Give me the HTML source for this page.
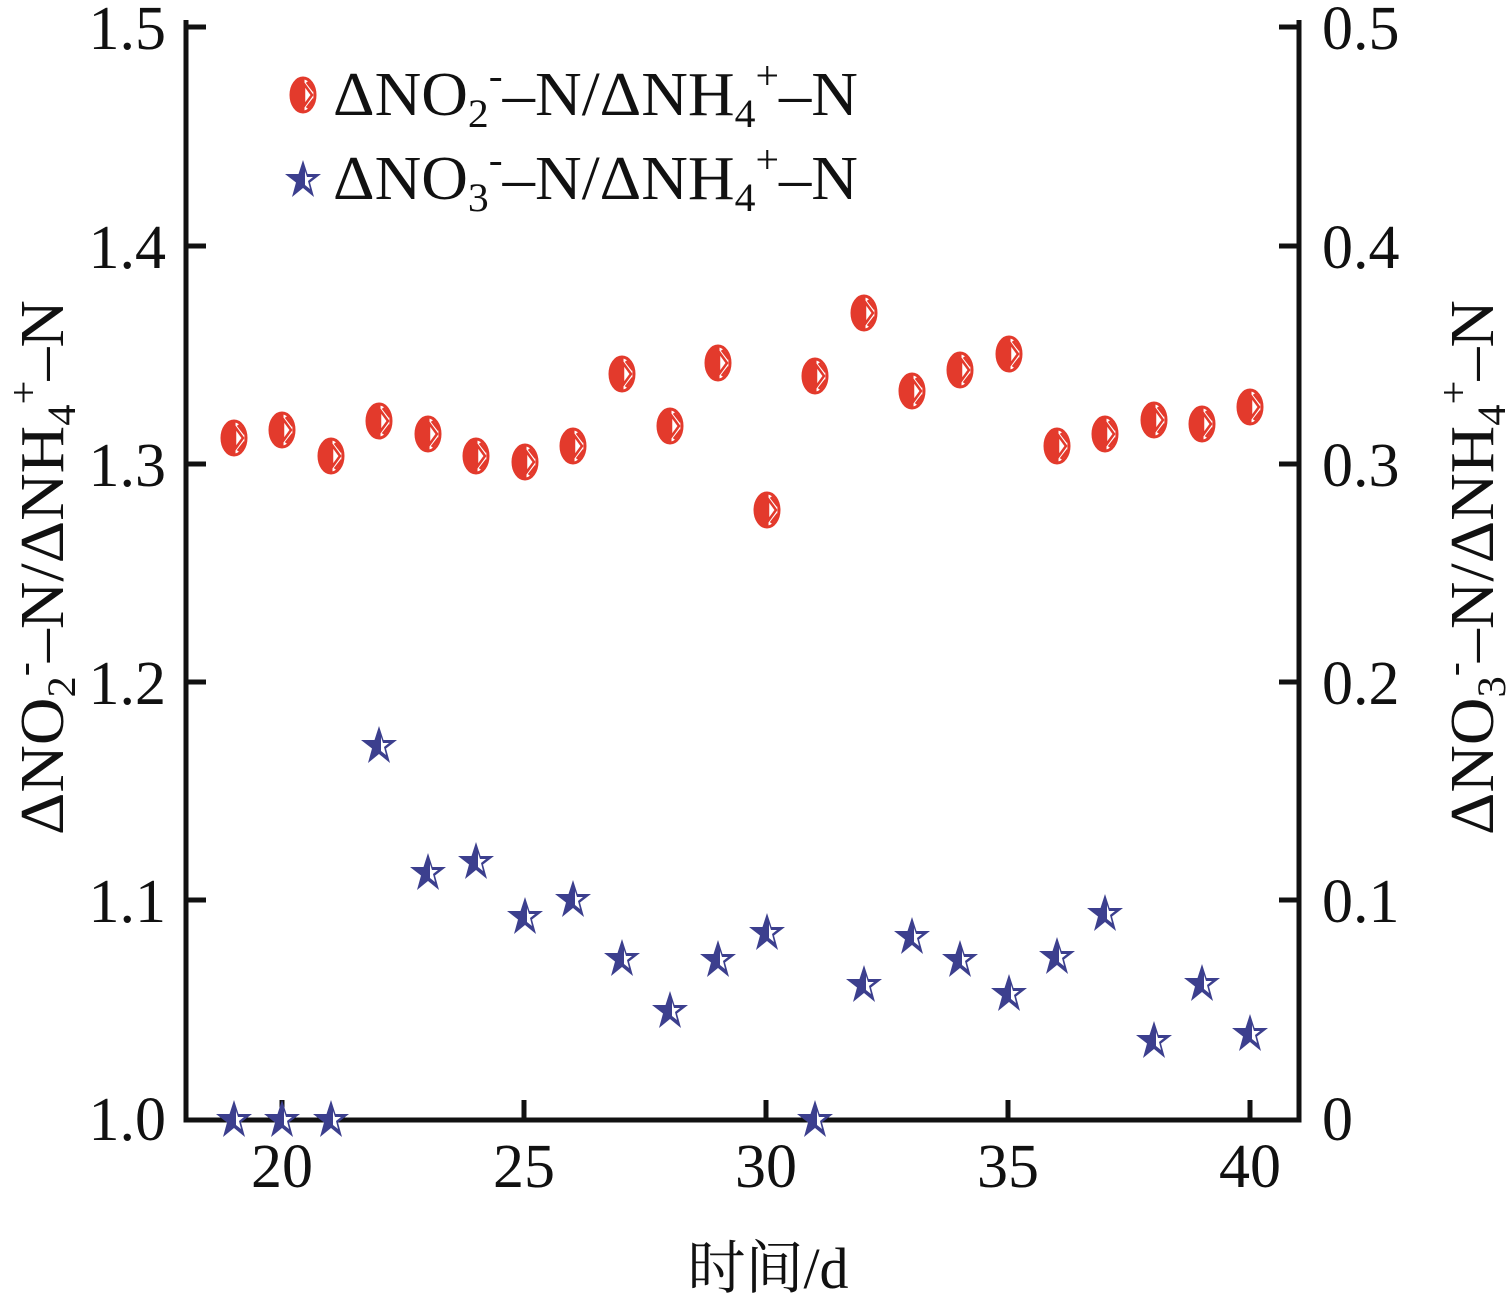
<!DOCTYPE html>
<html><head><meta charset="utf-8"><style>
html,body{margin:0;padding:0;background:#fff;}
svg{display:block;}
text{font-family:"Liberation Serif","Noto Serif CJK SC",serif;fill:#111;}
</style></head><body>
<svg width="1512" height="1299" viewBox="0 0 1512 1299" xmlns="http://www.w3.org/2000/svg">
<defs>
<g id="c">
<ellipse cx="0" cy="0" rx="12" ry="17" fill="#fff" stroke="#e33a2c" stroke-width="3"/>
<path d="M0,-17 A12,17 0 0 0 0,17 Z" fill="#e33a2c"/>
<path d="M1,-11 L9,0 L1,11 Z" fill="#fff" stroke="#e33a2c" stroke-width="2.5"/>
<path d="M0,-17 L0,17" stroke="#e33a2c" stroke-width="3"/>
<path d="M4,-13 L11,-4 M4,13 L11,4" stroke="#e33a2c" stroke-width="3"/>
</g>
<g id="s">
<polygon points="0,-20 4.5,-6 18,-6 7,2.5 11,17 0,8 -11,17 -7,2.5 -18,-6 -4.5,-6" fill="#3c3f8e"/>
<polygon points="2,-9 4,-3 10,-3 5,1 7,9 2,5" fill="#fff"/>
</g>
</defs>

<!-- axes -->
<g stroke="#111" stroke-width="5" fill="none">
<path d="M186,20 L186,1120 L1299,1120 L1299,20"/>
<path d="M186,27 h20 M186,246 h20 M186,464 h20 M186,682 h20 M186,900 h20"/>
<path d="M1299,27 h-20 M1299,246 h-20 M1299,464 h-20 M1299,682 h-20 M1299,900 h-20"/>
<path d="M282,1120 v-20 M524,1120 v-20 M766,1120 v-20 M1008,1120 v-20 M1250,1120 v-20"/>
</g>

<!-- left labels -->
<g font-size="62" text-anchor="end">
<text x="166" y="1140">1.0</text>
<text x="166" y="922">1.1</text>
<text x="166" y="704">1.2</text>
<text x="166" y="486">1.3</text>
<text x="166" y="268">1.4</text>
<text x="166" y="49">1.5</text>
</g>
<g font-size="62" text-anchor="start">
<text x="1322" y="1140">0</text>
<text x="1322" y="922">0.1</text>
<text x="1322" y="704">0.2</text>
<text x="1322" y="486">0.3</text>
<text x="1322" y="268">0.4</text>
<text x="1322" y="49">0.5</text>
</g>
<g font-size="62" text-anchor="middle">
<text x="282" y="1187">20</text>
<text x="524" y="1187">25</text>
<text x="766" y="1187">30</text>
<text x="1008" y="1187">35</text>
<text x="1250" y="1187">40</text>
</g>
<text x="768" y="1288" font-size="58" text-anchor="middle">时间/d</text>

<!-- y titles -->
<text transform="translate(63,835) rotate(-90)" font-size="62" textLength="535" lengthAdjust="spacingAndGlyphs">ΔNO<tspan font-size="40" dy="12">2</tspan><tspan font-size="40" dy="-38">-</tspan><tspan dy="26">–N/ΔNH</tspan><tspan font-size="40" dy="12">4</tspan><tspan font-size="40" dy="-38">+</tspan><tspan dy="26">–N</tspan></text>
<text transform="translate(1493,835) rotate(-90)" font-size="62" textLength="535" lengthAdjust="spacingAndGlyphs">ΔNO<tspan font-size="40" dy="12">3</tspan><tspan font-size="40" dy="-38">-</tspan><tspan dy="26">–N/ΔNH</tspan><tspan font-size="40" dy="12">4</tspan><tspan font-size="40" dy="-38">+</tspan><tspan dy="26">–N</tspan></text>

<!-- legend -->
<use href="#c" x="303" y="95"/>
<use href="#s" x="303" y="180"/>
<text x="333" y="115" font-size="62" textLength="525" lengthAdjust="spacingAndGlyphs">ΔNO<tspan font-size="40" dy="12">2</tspan><tspan font-size="40" dy="-38">-</tspan><tspan dy="26">–N/ΔNH</tspan><tspan font-size="40" dy="12">4</tspan><tspan font-size="40" dy="-38">+</tspan><tspan dy="26">–N</tspan></text>
<text x="333" y="199" font-size="62" textLength="525" lengthAdjust="spacingAndGlyphs">ΔNO<tspan font-size="40" dy="12">3</tspan><tspan font-size="40" dy="-38">-</tspan><tspan dy="26">–N/ΔNH</tspan><tspan font-size="40" dy="12">4</tspan><tspan font-size="40" dy="-38">+</tspan><tspan dy="26">–N</tspan></text>

<!-- red series -->
<use href="#c" x="234" y="438"/><use href="#c" x="282" y="430"/><use href="#c" x="331" y="456"/>
<use href="#c" x="379" y="421"/><use href="#c" x="428" y="434"/><use href="#c" x="476" y="456"/>
<use href="#c" x="525" y="462"/><use href="#c" x="573" y="446"/><use href="#c" x="622" y="374"/>
<use href="#c" x="670" y="426"/><use href="#c" x="718" y="363"/><use href="#c" x="767" y="510"/>
<use href="#c" x="815" y="376"/><use href="#c" x="864" y="313"/><use href="#c" x="912" y="391"/>
<use href="#c" x="960" y="370"/><use href="#c" x="1009" y="354"/><use href="#c" x="1057" y="446"/>
<use href="#c" x="1105" y="434"/><use href="#c" x="1154" y="420"/><use href="#c" x="1202" y="424"/>
<use href="#c" x="1250" y="407"/>

<!-- blue series -->
<use href="#s" x="234" y="1120"/><use href="#s" x="282" y="1120"/><use href="#s" x="331" y="1120"/>
<use href="#s" x="379" y="746"/><use href="#s" x="428" y="873"/><use href="#s" x="476" y="862"/>
<use href="#s" x="525" y="917"/><use href="#s" x="573" y="900"/><use href="#s" x="622" y="959"/>
<use href="#s" x="670" y="1011"/><use href="#s" x="718" y="960"/><use href="#s" x="767" y="933"/>
<use href="#s" x="815" y="1120"/><use href="#s" x="864" y="985"/><use href="#s" x="912" y="937"/>
<use href="#s" x="960" y="960"/><use href="#s" x="1009" y="994"/><use href="#s" x="1057" y="957"/>
<use href="#s" x="1105" y="914"/><use href="#s" x="1154" y="1041"/><use href="#s" x="1202" y="984"/>
<use href="#s" x="1250" y="1034"/>
</svg>
</body></html>
